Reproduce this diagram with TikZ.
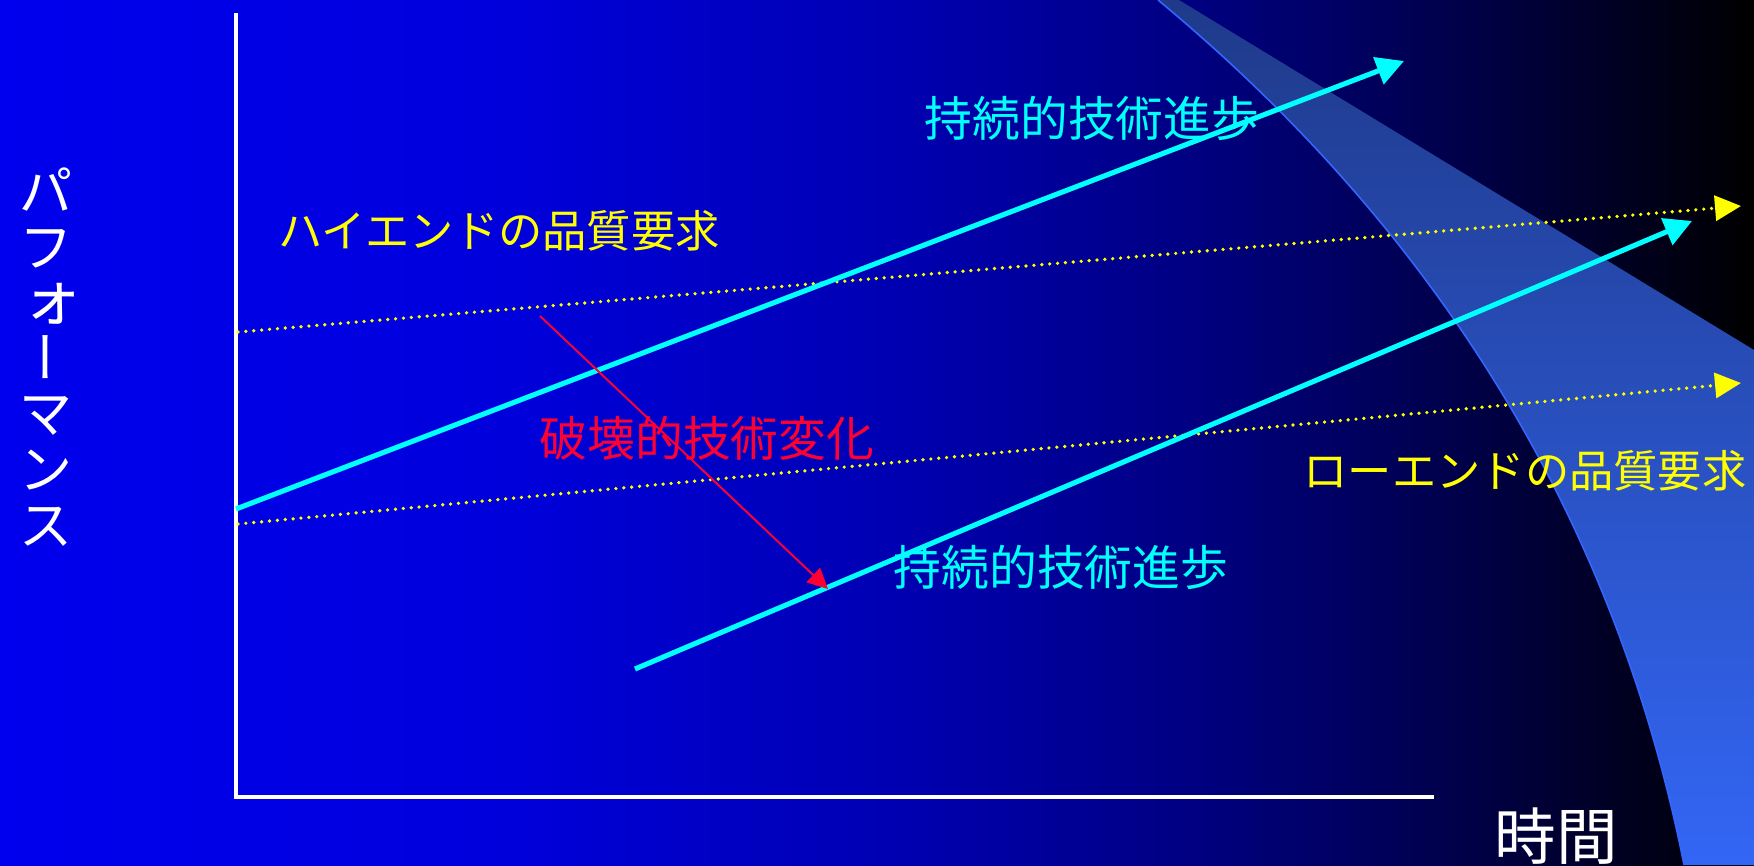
\documentclass[tikz,border=0pt]{standalone}
\usepackage{fontspec}
\newfontfamily\jp{Noto Sans CJK JP}
\newfontfamily\jpv[RawFeature=+vert]{Noto Sans CJK JP}
\usetikzlibrary{arrows.meta}
\definecolor{c0}{RGB}{0,0,238}
\definecolor{c1}{RGB}{0,0,220}
\definecolor{c2}{RGB}{0,0,177}
\definecolor{c3}{RGB}{0,0,128}
\definecolor{c4}{RGB}{0,0,76}
\definecolor{cyanc}{RGB}{0,255,255}
\definecolor{yellowc}{RGB}{255,255,0}
\definecolor{redc}{RGB}{255,0,51}
\definecolor{bandA}{RGB}{31,58,138}
\definecolor{bandB}{RGB}{44,86,214}
\definecolor{bandC}{RGB}{51,102,245}
\definecolor{bandedge}{RGB}{51,102,255}
\pgfdeclarehorizontalshading{bgshade}{100bp}{color(0bp)=(c0); color(25bp)=(c0); color(39.25bp)=(c1); color(50.65bp)=(c2); color(59.2bp)=(c3); color(66.3bp)=(c4); color(75bp)=(black); color(100bp)=(black)}
\tikzset{
  axisline/.style={draw=white, line width=0.9pt},
  cyanarrow/.style={draw=cyanc, line width=1.45pt, -{Triangle[length=7.8pt,width=8pt]}},
  dotarrow/.style={draw=yellowc, line width=1.05pt, line cap=round, dash pattern=on 0pt off 2.25pt, -{Triangle[length=7.4pt,width=7.1pt]}},
  redarrow/.style={draw=redc, line width=0.55pt, -{Triangle[length=5.8pt,width=5.6pt]}},
  cyantext/.style={text=cyanc, inner sep=0pt, font=\jp\fontsize{13.6pt}{16pt}\selectfont},
  yellowtext/.style={text=yellowc, inner sep=0pt, font=\jp\fontsize{12.6pt}{15pt}\selectfont},
  redtext/.style={text=redc, inner sep=0pt, font=\jp\fontsize{13.6pt}{16pt}\selectfont},
  whitetext/.style={text=white, inner sep=0pt},
}
\begin{document}
\begin{tikzpicture}[x=0.1mm, y=-0.1mm]
\useasboundingbox (0,0) rectangle (1754,865);
\shade[shading=bgshade] (0,0) rectangle (1754,865);
% light band
\shade[top color=bandA, middle color=bandB, bottom color=bandC]
  (1158,0) .. controls (1441,235) and (1616,524) .. (1684,865)
  -- (1754,865) -- (1754,350) -- (1179,0) -- cycle;
\draw[bandedge, line width=0.45pt]
  (1158,0) .. controls (1441,235) and (1616,524) .. (1684,865);
% axes
\coordinate (ytop) at (236,13);
\coordinate (origin) at (236,797);
\coordinate (xend) at (1434,797);
\draw[axisline] (ytop) -- (origin) -- (xend);
% requirement lines
\coordinate (hiS) at (238,332);
\coordinate (hiE) at (1741,206);
\coordinate (loS) at (238,524);
\coordinate (loE) at (1741,383);
\draw[dotarrow] (hiS) -- (hiE);
\draw[dotarrow] (loS) -- (loE);
% technology lines
\coordinate (t1S) at (236,509);
\coordinate (t1E) at (1404,61);
\coordinate (t2S) at (635,669);
\coordinate (t2E) at (1692,221);
\draw[cyanarrow] (t1S) -- (t1E);
\draw[cyanarrow] (t2S) -- (t2E);
% disruptive arrow
\coordinate (dS) at (540,316);
\coordinate (dE) at (828,589);
\draw[redarrow] (dS) -- (dE);
% labels
\node[cyantext] (sus1) at (1092,118) {持続的技術進歩};
\node[cyantext] (sus2) at (1061,567) {持続的技術進歩};
\node[yellowtext] (high) at (499,231) {ハイエンドの品質要求};
\node[yellowtext] (low) at (1525,471) {ローエンドの品質要求};
\node[redtext] (disr) at (707,438) {破壊的技術変化};
\node[whitetext, font=\jp\fontsize{17.5pt}{20pt}\selectfont] (time) at (1556,836) {時間};
\node[whitetext, align=center, font=\jpv\fontsize{15.6pt}{15.8pt}\selectfont] (perf) at (46,357)
  {パ\\フ\\\raisebox{-1.6pt}{\fontsize{18.5pt}{15.8pt}\selectfont ォ}\\ー\\マ\\ン\\ス};
\end{tikzpicture}
\end{document}
